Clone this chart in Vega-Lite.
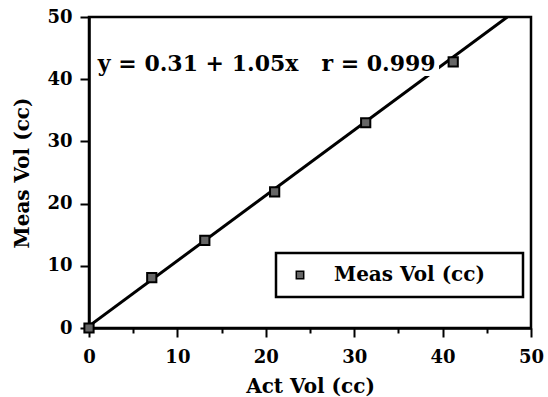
{
  "$schema": "https://vega.github.io/schema/vega-lite/v6.json",
  "width": 442,
  "height": 311,
  "autosize": {"type": "none"},
  "padding": {"left": 89, "top": 17, "right": 17, "bottom": 69},
  "background": "white",
  "config": {
    "font": "DejaVu Serif",
    "view": {"stroke": "black", "strokeWidth": 2.5},
    "legend": {"strokeWidth": 2.5},
    "axis": {
      "grid": false,
      "domainColor": "black",
      "domainWidth": 2.5,
      "tickColor": "black",
      "tickWidth": 2,
      "tickSize": {"condition": {"test": "datum.value % 10 === 0", "value": 9}, "value": 5},
      "labelFont": "DejaVu Serif",
      "labelFontWeight": "bold",
      "labelFontSize": 18,
      "labelColor": "black",
      "titleFont": "DejaVu Serif",
      "titleFontWeight": "bold",
      "titleFontSize": 20,
      "titleColor": "black"
    }
  },
  "layer": [
    {
      "data": {"values": [{"x": 0, "y": 0.31}, {"x": 47.32, "y": 50}]},
      "mark": {"type": "line", "color": "black", "strokeWidth": 3, "clip": true},
      "encoding": {
        "x": {"field": "x", "type": "quantitative",
          "scale": {"domain": [0, 50], "nice": false},
          "axis": {"values": [0,5,10,15,20,25,30,35,40,45,50], "labelExpr": "datum.value % 10 === 0 ? datum.label : ''", "labelPadding": 11, "title": "Act Vol (cc)", "titlePadding": 10, "labelFlush": false}},
        "y": {"field": "y", "type": "quantitative",
          "scale": {"domain": [0, 50], "nice": false},
          "axis": {"values": [0,5,10,15,20,25,30,35,40,45,50], "labelExpr": "datum.value % 10 === 0 ? datum.label : ''", "labelPadding": 8, "title": "Meas Vol (cc)", "titlePadding": 14, "labelFlush": false}}
      }
    },
    {
      "data": {"values": [{"x0": 0.8, "x1": 39.6, "y0": 40.5, "y1": 44.8}]},
      "mark": {"type": "rect", "color": "white"},
      "encoding": {
        "x": {"field": "x0", "type": "quantitative"},
        "x2": {"field": "x1"},
        "y": {"field": "y0", "type": "quantitative"},
        "y2": {"field": "y1"}
      }
    },
    {
      "data": {"values": [
        {"act": 0, "meas": 0, "series": "Meas Vol (cc)"},
        {"act": 7.1, "meas": 8.1, "series": "Meas Vol (cc)"},
        {"act": 13.1, "meas": 14.1, "series": "Meas Vol (cc)"},
        {"act": 21.0, "meas": 21.9, "series": "Meas Vol (cc)"},
        {"act": 31.3, "meas": 33.0, "series": "Meas Vol (cc)"},
        {"act": 41.2, "meas": 42.8, "series": "Meas Vol (cc)"}
      ]},
      "mark": {"type": "point", "shape": "square", "filled": true, "size": 85, "stroke": "black", "strokeWidth": 2, "opacity": 1},
      "encoding": {
        "x": {"field": "act", "type": "quantitative"},
        "y": {"field": "meas", "type": "quantitative"},
        "fill": {"field": "series", "type": "nominal",
          "scale": {"range": ["#666666"]},
          "legend": {
            "title": null,
            "orient": "none",
            "legendX": 187,
            "legendY": 236,
            "padding": 12,
            "strokeColor": "black",
            "fillColor": "white",
            "symbolType": "square",
            "symbolSize": 55,
            "symbolStrokeColor": "black",
            "symbolStrokeWidth": 1.5,
            "symbolOffset": 2,
            "labelOffset": 24,
            "labelFont": "DejaVu Serif",
            "labelFontWeight": "bold",
            "labelFontSize": 20,
            "labelColor": "black",
            "labelLimit": 400,
            "labelExpr": "datum.label + '\u2002\u2800'"
          }
        }
      }
    },
    {
      "data": {"values": [{"x": 1.0, "y": 42.4, "label": "y = 0.31 + 1.05x\u00a0\u00a0\u00a0r = 0.999"}]},
      "mark": {"type": "text", "align": "left", "baseline": "middle", "font": "DejaVu Serif", "fontWeight": "bold", "fontSize": 22, "color": "black"},
      "encoding": {
        "x": {"field": "x", "type": "quantitative"},
        "y": {"field": "y", "type": "quantitative"},
        "text": {"field": "label"}
      }
    }
  ]
}
